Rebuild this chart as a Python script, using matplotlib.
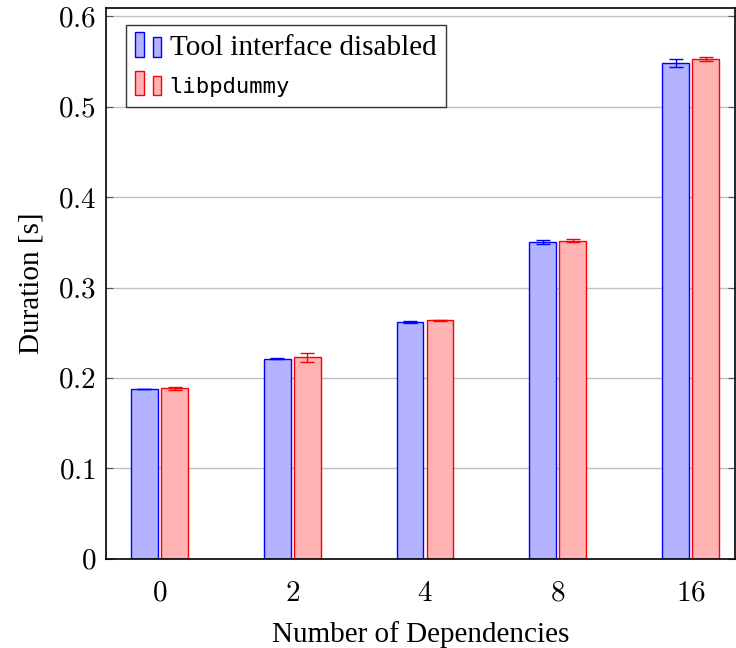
import matplotlib
matplotlib.use("Agg")
import matplotlib.pyplot as plt
import numpy as np
from matplotlib.legend_handler import HandlerBase
from matplotlib.patches import Rectangle

categories = ["0", "2", "4", "8", "16"]
tool_disabled = [0.1878, 0.2211, 0.2619, 0.3508, 0.5489]
tool_disabled_err = [0.0005, 0.0005, 0.0007, 0.0022, 0.0045]
libpdummy = [0.1885, 0.2230, 0.2640, 0.3519, 0.5530]
libpdummy_err = [0.0020, 0.0050, 0.0005, 0.0015, 0.0020]
series_labels = ["Tool interface disabled", "libpdummy"]
ytick_vals = [0, 0.1, 0.2, 0.3, 0.4, 0.5, 0.6]
ytick_labels = ["0", "0.1", "0.2", "0.3", "0.4", "0.5", "0.6"]

plt.rcParams['font.family'] = ['Liberation Serif', 'DejaVu Serif']
plt.rcParams['mathtext.fontset'] = 'cm'

fig = plt.figure(figsize=(7.36, 6.48), dpi=100)
ax = fig.add_axes([106/736, 1 - 558.7/648, (735-106)/736, (558.7-8.3)/648])

x = np.arange(len(categories))
w = 0.203
off = 0.113
blue_fill = (0.7, 0.7, 1.0)
red_fill = (1.0, 0.7, 0.7)

ax.bar(x - off, tool_disabled, w, color=blue_fill, edgecolor='blue', linewidth=1.0, zorder=2,
       label=series_labels[0])
ax.bar(x + off, libpdummy, w, color=red_fill, edgecolor='red', linewidth=1.0, zorder=2,
       label=series_labels[1])
ax.errorbar(x - off, tool_disabled, yerr=tool_disabled_err, fmt='none', ecolor='blue',
            elinewidth=1.0, capsize=5, capthick=1.0, zorder=3)
ax.errorbar(x + off, libpdummy, yerr=libpdummy_err, fmt='none', ecolor='red',
            elinewidth=1.0, capsize=5, capthick=1.0, zorder=3)

ax.set_xlim(-0.403, 4.335)
ax.set_ylim(0, 0.609)
ax.set_yticks(ytick_vals)
ax.set_yticklabels(["$" + t + "$" for t in ytick_labels])
ax.set_xticks(x)
ax.set_xticklabels(["$" + c + "$" for c in categories])
ax.yaxis.grid(True, color='#c0c0c0', linewidth=1.0, zorder=0)
ax.set_axisbelow(True)
ax.tick_params(axis='y', direction='in', length=5, width=0.8, labelsize=21, pad=7,
               right=True, color='#555555')
ax.tick_params(axis='x', direction='in', length=0, labelsize=21, pad=16)
for s in ax.spines.values():
    s.set_linewidth(1.2)

ax.set_xlabel("Number of Dependencies", fontsize=21, labelpad=10)
ax.set_ylabel("Duration [s]", fontsize=21, labelpad=10)


class TwoBarHandler(HandlerBase):
    def __init__(self, fc, ec):
        super().__init__()
        self.fc = fc
        self.ec = ec

    def create_artists(self, legend, orig_handle, xdescent, ydescent, width, height, fontsize, trans):
        bw = width * 0.31
        y0 = -ydescent - height * 0.1
        r1 = Rectangle((-xdescent, y0), bw, height * 1.2,
                       facecolor=self.fc, edgecolor=self.ec, lw=1.0, transform=trans)
        r2 = Rectangle((-xdescent + width * 0.62, y0), bw, height * 0.95,
                       facecolor=self.fc, edgecolor=self.ec, lw=1.0, transform=trans)
        return [r1, r2]


h1 = Rectangle((0, 0), 1, 1)
h2 = Rectangle((0, 0), 1, 1)
leg = ax.legend([h1, h2], series_labels,
                handler_map={h1: TwoBarHandler(blue_fill, 'blue'), h2: TwoBarHandler(red_fill, 'red')},
                loc='upper left', bbox_to_anchor=(0.032, 0.97), fontsize=21,
                frameon=True, fancybox=False, edgecolor='#333333', framealpha=1,
                handlelength=0.95, handletextpad=0.22, labelspacing=0.42, borderpad=0.32,
                borderaxespad=0)
leg.get_frame().set_linewidth(1.0)
leg.get_texts()[1].set_family('DejaVu Sans Mono')
leg.get_texts()[1].set_fontsize(16)

fig.savefig("out.png", dpi=100)
